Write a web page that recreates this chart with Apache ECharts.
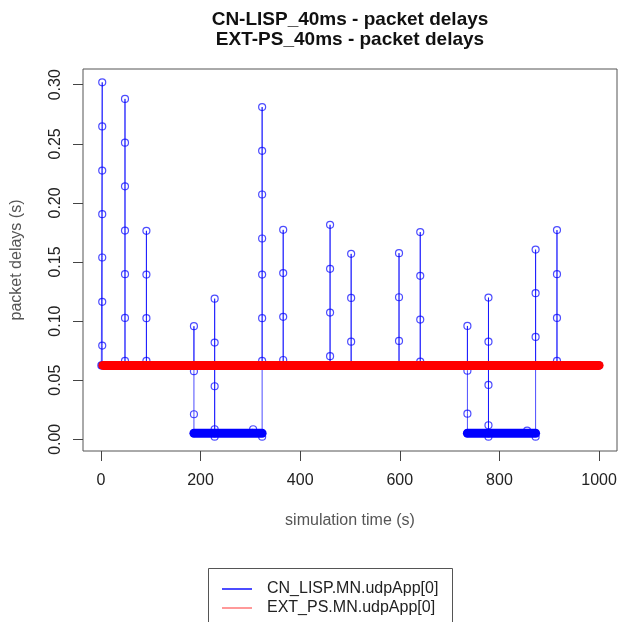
<!DOCTYPE html>
<html>
<head>
<meta charset="utf-8">
<script src="https://cdn.jsdelivr.net/npm/echarts@6/dist/echarts.min.js"></script>
<style>
  html, body { margin: 0; padding: 0; background: #fff; }
  #chart { width: 643px; height: 622px; }
</style>
</head>
<body>
<div id="chart"></div>
<script>
// Tick labels
const xTicks = [0, 200, 400, 600, 800, 1000];
const yTicks = [0, 0.05, 0.10, 0.15, 0.20, 0.25, 0.30];

// CN_LISP: bursts of queued packets after each handover (time in s, delays in s, in arrival order)
const cnStart = [0.8, 0.0625];
const cnBurstTime = [2.6, 48.3, 91.3, 186.7, 228.3, 305.5, 323.6, 365.9, 460.0, 502.3, 598.4, 641.0, 735.7, 778.0, 855.6, 872.6, 915.5];
const cnBurstDelays = [
  [0.302, 0.2647, 0.2274, 0.1905, 0.1538, 0.1163, 0.0793, 0.0625],
  [0.0625, 0.288, 0.251, 0.214, 0.1766, 0.1397, 0.1027, 0.0663, 0.0625],
  [0.0625, 0.1764, 0.1394, 0.1025, 0.0663, 0.0625],
  [0.0625, 0.0957, 0.0576, 0.0212, 0.0051],
  [0.0051, 0.119, 0.0818, 0.0449, 0.0085, 0.0022, 0.0051],
  [0.0085],
  [0.0022, 0.2811, 0.2441, 0.2071, 0.1699, 0.1394, 0.1025, 0.0663, 0.0625],
  [0.0625, 0.1772, 0.1406, 0.1036, 0.0671, 0.0625],
  [0.0625, 0.1815, 0.1442, 0.1072, 0.0703, 0.0625],
  [0.0625, 0.1569, 0.1196, 0.0826, 0.0625],
  [0.0625, 0.1575, 0.1202, 0.0832, 0.0625],
  [0.0625, 0.1753, 0.1383, 0.1013, 0.0657, 0.0625],
  [0.0625, 0.0959, 0.0581, 0.0217, 0.0051],
  [0.0051, 0.1199, 0.0826, 0.046, 0.0119, 0.0022, 0.0051],
  [0.0073],
  [0.0022, 0.1605, 0.1236, 0.0866, 0.0625],
  [0.0625, 0.177, 0.1397, 0.1027, 0.0663, 0.0625]
];
const cnEnd = [1000, 0.0625];

// CN_LISP: dense low-delay packet stream while on the direct path
const cnLowStart = [186.7, 735.7];
const cnLowEnd = [323.6, 872.6];
const cnLowDelay = 0.0051;

// EXT_PS: constant delay stream
const extStart = 4;
const extEnd = 1000;
const extDelay = 0.0625;

const cnName = 'CN_LISP.MN.udpApp[0]';
const extName = 'EXT_PS.MN.udpApp[0]';

const cnTrace = [cnStart];
cnBurstTime.forEach((t, i) => cnBurstDelays[i].forEach(d => cnTrace.push([t, d])));
cnTrace.push(cnEnd);

const blue = 'rgba(0,0,255,0.7)';
const font = '"Liberation Sans", Arial, Helvetica, sans-serif';

const series = [{
  name: cnName,
  type: 'line',
  data: cnTrace,
  symbol: 'circle',
  symbolSize: 7,
  showSymbol: true,
  lineStyle: { color: blue, width: 1 },
  itemStyle: { color: 'rgba(0,0,0,0)', borderColor: blue, borderWidth: 1.2 },
  z: 2
}];
cnLowStart.forEach((s, i) => {
  series.push({
    name: 'cnLow' + i,
    type: 'line',
    data: [[s, cnLowDelay], [cnLowEnd[i], cnLowDelay]],
    showSymbol: false,
    symbol: 'none',
    lineStyle: { color: '#0000ff', width: 9, cap: 'round' },
    z: 3
  });
});
series.push({
  name: extName,
  type: 'line',
  data: [[extStart, extDelay], [extEnd, extDelay]],
  showSymbol: false,
  symbol: 'none',
  lineStyle: { color: '#ff0000', width: 9, cap: 'round' },
  z: 4
});

const chart = echarts.init(document.getElementById('chart'), null, { renderer: 'canvas' });
chart.setOption({
  animation: false,
  backgroundColor: '#fff',
  graphic: [
    { type: 'text', x: 350, y: 20, style: { text: 'CN-LISP_40ms - packet delays', font: 'bold 19px ' + font, fill: '#111', textAlign: 'center', textVerticalAlign: 'middle' } },
    { type: 'text', x: 350, y: 40, style: { text: 'EXT-PS_40ms - packet delays', font: 'bold 19px ' + font, fill: '#111', textAlign: 'center', textVerticalAlign: 'middle' } },
    // legend frame, running past the bottom edge
    { type: 'rect', shape: { x: 208.5, y: 568.5, width: 244, height: 80 }, style: { fill: 'none', stroke: '#555', lineWidth: 1 }, z: 10 }
  ],
  grid: { left: 83, right: 26, top: 69, bottom: 171, show: true, borderColor: '#555', borderWidth: 1, backgroundColor: 'transparent' },
  legend: {
    left: 208, top: 568, orient: 'vertical',
    padding: [13, 13, 6, 14], itemGap: 3,
    itemWidth: 30, itemHeight: 2, icon: 'rect',
    textStyle: { fontFamily: font, fontSize: 16, color: '#222', padding: [0, 0, 0, 10] },
    data: [
      { name: cnName, itemStyle: { color: 'rgba(0,0,255,0.7)', borderWidth: 0 } },
      { name: extName, itemStyle: { color: 'rgba(255,0,0,0.4)', borderWidth: 0 } }
    ]
  },
  xAxis: {
    type: 'value', min: -36, max: 1036,
    name: 'simulation time (s)', nameLocation: 'middle', nameGap: 62,
    nameTextStyle: { fontFamily: font, fontSize: 16, color: '#555' },
    axisLine: { show: false, onZero: false },
    axisTick: { show: true, length: 10, lineStyle: { color: '#444' }, customValues: xTicks },
    axisLabel: { fontFamily: font, fontSize: 16, color: '#222', margin: 22, customValues: xTicks, formatter: v => String(v) },
    splitLine: { show: false }
  },
  yAxis: {
    type: 'value', min: -0.0099, max: 0.3133,
    name: 'packet delays (s)', nameLocation: 'middle', nameGap: 58,
    nameTextStyle: { fontFamily: font, fontSize: 16, color: '#555' },
    axisLine: { show: false, onZero: false },
    axisTick: { show: true, length: 10, lineStyle: { color: '#444' }, customValues: yTicks },
    axisLabel: { fontFamily: font, fontSize: 16, color: '#222', margin: 19, rotate: 90, customValues: yTicks, formatter: v => v.toFixed(2) },
    splitLine: { show: false }
  },
  series: series
});
</script>
</body>
</html>
